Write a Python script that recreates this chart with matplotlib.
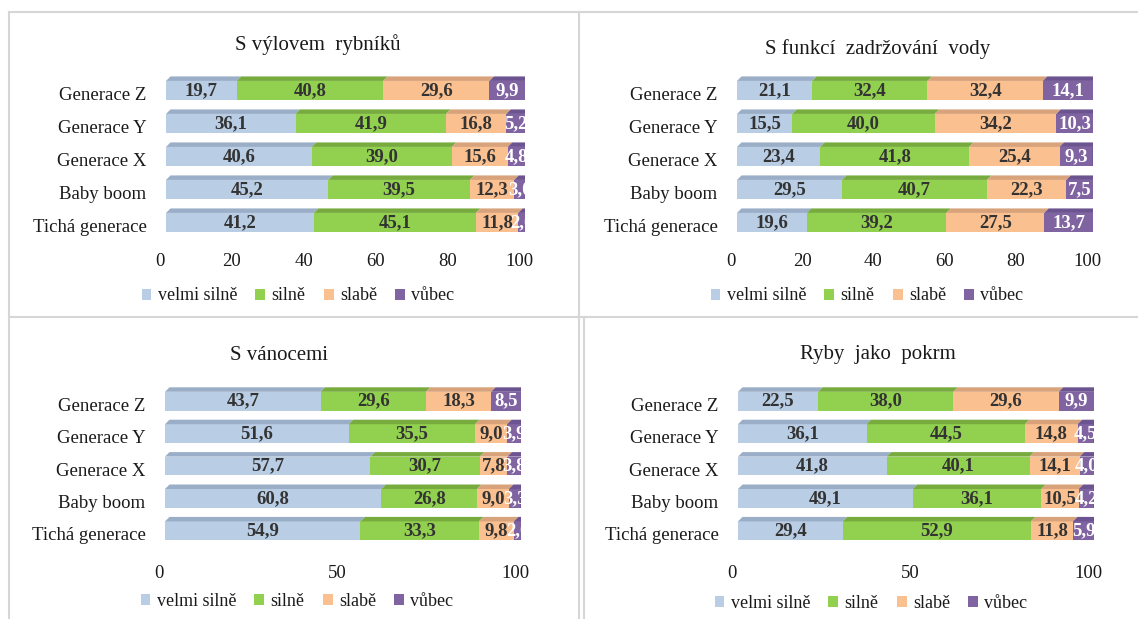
import matplotlib
matplotlib.use("Agg")
import matplotlib.pyplot as plt
from matplotlib.patches import Polygon, Patch
from matplotlib.lines import Line2D
from matplotlib.transforms import ScaledTranslation

plt.rcParams["font.family"] = ["Liberation Serif", "DejaVu Serif"]

# Generations, top row first
generations = ["Generace Z", "Generace Y", "Generace X", "Baby boom", "Tichá generace"]
series_names = ["velmi silně", "silně", "slabě", "vůbec"]

# S výlovem rybníků
vylov_velmi = [19.7, 36.1, 40.6, 45.2, 41.2]
vylov_silne = [40.8, 41.9, 39.0, 39.5, 45.1]
vylov_slabe = [29.6, 16.8, 15.6, 12.3, 11.8]
vylov_vubec = [9.9, 5.2, 4.8, 3.0, 2.0]

# S funkcí zadržování vody
voda_velmi = [21.1, 15.5, 23.4, 29.5, 19.6]
voda_silne = [32.4, 40.0, 41.8, 40.7, 39.2]
voda_slabe = [32.4, 34.2, 25.4, 22.3, 27.5]
voda_vubec = [14.1, 10.3, 9.3, 7.5, 13.7]

# S vánocemi
vanoce_velmi = [43.7, 51.6, 57.7, 60.8, 54.9]
vanoce_silne = [29.6, 35.5, 30.7, 26.8, 33.3]
vanoce_slabe = [18.3, 9.0, 7.8, 9.0, 9.8]
vanoce_vubec = [8.5, 3.9, 3.8, 3.3, 2.0]

# Ryby jako pokrm
pokrm_velmi = [22.5, 36.1, 41.8, 49.1, 29.4]
pokrm_silne = [38.0, 44.5, 40.1, 36.1, 52.9]
pokrm_slabe = [29.6, 14.8, 14.1, 10.5, 11.8]
pokrm_vubec = [9.9, 4.5, 4.0, 4.2, 5.9]

ticks_fine = [0, 20, 40, 60, 80, 100]
ticks_coarse = [0, 50, 100]

front_colors = ["#B9CDE5", "#92D050", "#FAC090", "#8064A2"]
top_colors = ["#9AAEC8", "#77AB3E", "#D8A27A", "#6C5490"]
side_color = "#5B4680"
label_colors = ["#333333", "#333333", "#333333", "#FFFFFF"]
text_color = "#1A1A1A"

W, H = 1138, 619
fig = plt.figure(figsize=(W / 100, H / 100), dpi=100)

DEPTH = 4.5      # px offset of the 3D back face
BAR_H = 0.58     # front face height in category units


def px_rect(x0, y0, x1, y1):
    return [x0 / W, 1 - y1 / H, (x1 - x0) / W, (y1 - y0) / H]


def draw_panel(rect_px, title, title_xy, series, xticks, xpad, legend_xy):
    ax = fig.add_axes(px_rect(*rect_px))
    ax.set_xlim(0, 100)
    ax.set_ylim(-0.5, 4.5)
    for s in ax.spines.values():
        s.set_visible(False)
    ax_w = rect_px[2] - rect_px[0]
    ax_h = rect_px[3] - rect_px[1]
    dx = DEPTH * 100 / ax_w
    dy = DEPTH * 5 / ax_h

    ypos = [4 - i for i in range(len(generations))]
    lefts = [0.0] * len(generations)
    for k, vals in enumerate(series):
        bars = ax.barh(ypos, vals, left=lefts, height=BAR_H,
                       color=front_colors[k], linewidth=0, zorder=2)
        for j, (b, v) in enumerate(zip(bars, vals)):
            l = b.get_x()
            r = l + b.get_width()
            t = b.get_y() + b.get_height()
            bt = b.get_y()
            ax.add_patch(Polygon([(l, t), (r, t), (r + dx, t + dy), (l + dx, t + dy)],
                                 closed=True, facecolor=top_colors[k],
                                 linewidth=0, zorder=2))
            if k == len(series) - 1:
                ax.add_patch(Polygon([(r, bt), (r, t), (r + dx, t + dy), (r + dx, bt + dy)],
                                     closed=True, facecolor=side_color,
                                     linewidth=0, zorder=2))
            ax.text(l + v / 2, ypos[j], f"{v:.1f}".replace(".", ","),
                    ha="center", va="center", fontsize=13.5, fontweight="bold",
                    color=label_colors[k], zorder=5)
        lefts = [a + v for a, v in zip(lefts, vals)]

    ax.set_yticks(ypos)
    ax.set_yticklabels(generations, fontsize=13.5, color=text_color)
    ax.tick_params(axis="y", length=0, pad=14)
    ax.set_xticks(xticks)
    ax.set_xticklabels([str(t) for t in xticks], fontsize=13.5, color=text_color)
    ax.tick_params(axis="x", length=0, pad=xpad)
    shift_x = ScaledTranslation(-6 / 100, 0, fig.dpi_scale_trans)
    for lbl in ax.get_xticklabels():
        lbl.set_transform(lbl.get_transform() + shift_x)
    shift_y = ScaledTranslation(0, -3 / 100, fig.dpi_scale_trans)
    for lbl in ax.get_yticklabels():
        lbl.set_transform(lbl.get_transform() + shift_y)

    fig.text(title_xy[0] / W, 1 - title_xy[1] / H, title, ha="center", va="center",
             fontsize=15, color=text_color)

    handles = [Patch(facecolor=c, edgecolor="none") for c in front_colors]
    fig.legend(handles, series_names, loc="center",
               bbox_to_anchor=(legend_xy[0] / W, 1 - legend_xy[1] / H),
               ncol=4, frameon=False, fontsize=13, handlelength=0.55,
               handleheight=0.55, handletextpad=0.35, columnspacing=1.0,
               labelcolor=text_color, borderpad=0)
    return ax


draw_panel((166, 74, 525, 239), "S výlovem  rybníků", (318, 45),
           [vylov_velmi, vylov_silne, vylov_slabe, vylov_vubec], ticks_fine, 10, (298, 296))
draw_panel((737, 74, 1093, 239), "S funkcí  zadržování  vody", (878, 49),
           [voda_velmi, voda_silne, voda_slabe, voda_vubec], ticks_fine, 10, (867, 296))
draw_panel((165, 385, 521, 547), "S vánocemi", (279, 355),
           [vanoce_velmi, vanoce_silne, vanoce_slabe, vanoce_vubec], ticks_coarse, 13, (297, 601))
draw_panel((738, 385, 1094, 547), "Ryby  jako  pokrm", (878, 354),
           [pokrm_velmi, pokrm_silne, pokrm_slabe, pokrm_vubec], ticks_coarse, 13, (871, 603))

# chart frames
frame = dict(color="#D6D6D6", linewidth=1.5, transform=fig.transFigure, zorder=0)


def hline(y, x0, x1):
    fig.add_artist(Line2D([x0 / W, x1 / W], [1 - y / H, 1 - y / H], **frame))


def vline(x, y0, y1):
    fig.add_artist(Line2D([x / W, x / W], [1 - y0 / H, 1 - y1 / H], **frame))


hline(12, 9, W)
hline(317, 9, W)
vline(9, 12, H)
vline(579, 12, H)
vline(583.5, 317, H)

fig.savefig("out.png", dpi=100)
